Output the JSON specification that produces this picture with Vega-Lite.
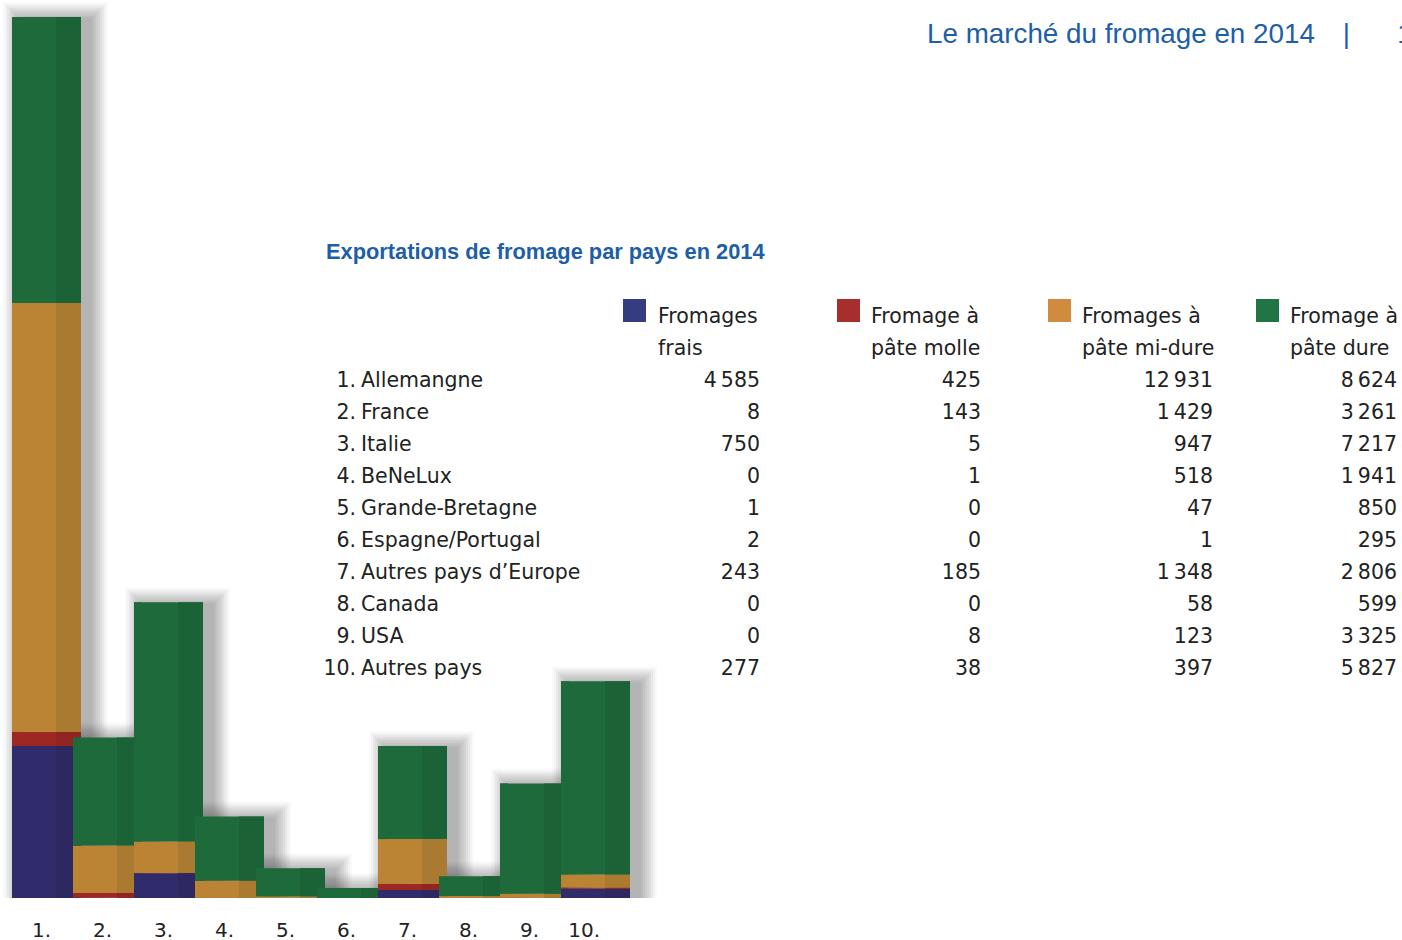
{
  "$schema": "https://vega.github.io/schema/vega-lite/v6.json",
  "width": 1402,
  "height": 898,
  "autosize": {"type": "none"},
  "padding": {"left": 0, "top": 0, "right": 0, "bottom": 42},
  "background": "white",
  "config": {
    "view": {"stroke": null},
    "locale": {"number": {"decimal": ",", "thousands": "\u2009", "grouping": [3], "currency": ["", " €"]}}
  },
  "title": {
    "text": "Le marché du fromage en 2014\u2002\u2002|\u2002\u2002\u2002\u20091",
    "anchor": "start",
    "frame": "group",
    "orient": "top",
    "offset": 0,
    "dx": 927,
    "dy": 70.5,
    "baseline": "alphabetic",
    "font": "Liberation Sans",
    "fontSize": 27.8,
    "fontWeight": "normal",
    "color": "#1d5ea8"
  },
  "datasets": {
    "exports": [
      {"idx": 1, "pays": "Allemangne", "type": "frais", "k": 1, "value": 4585},
      {"idx": 1, "pays": "Allemangne", "type": "molle", "k": 2, "value": 425},
      {"idx": 1, "pays": "Allemangne", "type": "midure", "k": 3, "value": 12931},
      {"idx": 1, "pays": "Allemangne", "type": "dure", "k": 4, "value": 8624},
      {"idx": 2, "pays": "France", "type": "frais", "k": 1, "value": 8},
      {"idx": 2, "pays": "France", "type": "molle", "k": 2, "value": 143},
      {"idx": 2, "pays": "France", "type": "midure", "k": 3, "value": 1429},
      {"idx": 2, "pays": "France", "type": "dure", "k": 4, "value": 3261},
      {"idx": 3, "pays": "Italie", "type": "frais", "k": 1, "value": 750},
      {"idx": 3, "pays": "Italie", "type": "molle", "k": 2, "value": 5},
      {"idx": 3, "pays": "Italie", "type": "midure", "k": 3, "value": 947},
      {"idx": 3, "pays": "Italie", "type": "dure", "k": 4, "value": 7217},
      {"idx": 4, "pays": "BeNeLux", "type": "frais", "k": 1, "value": 0},
      {"idx": 4, "pays": "BeNeLux", "type": "molle", "k": 2, "value": 1},
      {"idx": 4, "pays": "BeNeLux", "type": "midure", "k": 3, "value": 518},
      {"idx": 4, "pays": "BeNeLux", "type": "dure", "k": 4, "value": 1941},
      {"idx": 5, "pays": "Grande-Bretagne", "type": "frais", "k": 1, "value": 1},
      {"idx": 5, "pays": "Grande-Bretagne", "type": "molle", "k": 2, "value": 0},
      {"idx": 5, "pays": "Grande-Bretagne", "type": "midure", "k": 3, "value": 47},
      {"idx": 5, "pays": "Grande-Bretagne", "type": "dure", "k": 4, "value": 850},
      {"idx": 6, "pays": "Espagne/Portugal", "type": "frais", "k": 1, "value": 2},
      {"idx": 6, "pays": "Espagne/Portugal", "type": "molle", "k": 2, "value": 0},
      {"idx": 6, "pays": "Espagne/Portugal", "type": "midure", "k": 3, "value": 1},
      {"idx": 6, "pays": "Espagne/Portugal", "type": "dure", "k": 4, "value": 295},
      {"idx": 7, "pays": "Autres pays d’Europe", "type": "frais", "k": 1, "value": 243},
      {"idx": 7, "pays": "Autres pays d’Europe", "type": "molle", "k": 2, "value": 185},
      {"idx": 7, "pays": "Autres pays d’Europe", "type": "midure", "k": 3, "value": 1348},
      {"idx": 7, "pays": "Autres pays d’Europe", "type": "dure", "k": 4, "value": 2806},
      {"idx": 8, "pays": "Canada", "type": "frais", "k": 1, "value": 0},
      {"idx": 8, "pays": "Canada", "type": "molle", "k": 2, "value": 0},
      {"idx": 8, "pays": "Canada", "type": "midure", "k": 3, "value": 58},
      {"idx": 8, "pays": "Canada", "type": "dure", "k": 4, "value": 599},
      {"idx": 9, "pays": "USA", "type": "frais", "k": 1, "value": 0},
      {"idx": 9, "pays": "USA", "type": "molle", "k": 2, "value": 8},
      {"idx": 9, "pays": "USA", "type": "midure", "k": 3, "value": 123},
      {"idx": 9, "pays": "USA", "type": "dure", "k": 4, "value": 3325},
      {"idx": 10, "pays": "Autres pays", "type": "frais", "k": 1, "value": 277},
      {"idx": 10, "pays": "Autres pays", "type": "molle", "k": 2, "value": 38},
      {"idx": 10, "pays": "Autres pays", "type": "midure", "k": 3, "value": 397},
      {"idx": 10, "pays": "Autres pays", "type": "dure", "k": 4, "value": 5827}
    ],
    "types": [
      {"k": 1, "type": "frais", "label": ["Fromages", "frais"]},
      {"k": 2, "type": "molle", "label": ["Fromage à", "pâte molle"]},
      {"k": 3, "type": "midure", "label": ["Fromages à", "pâte mi-dure"]},
      {"k": 4, "type": "dure", "label": ["Fromage à", "pâte dure"]}
    ],
    "titres": [
      {"titre": "Exportations de fromage par pays en 2014"}
    ]
  },
  "data": {"name": "exports"},
  "layer": [
    {
      "mark": {"type": "bar", "width": 73, "xOffset": 9, "yOffset": 1, "y2Offset": 2, "color": "#000000", "opacity": 0.04},
      "encoding": {
        "x": {"field": "idx", "type": "quantitative", "scale": {"domain": [1, 10], "range": [46.5, 595.5], "padding": 0}, "axis": null},
        "y": {"aggregate": "sum", "field": "value", "type": "quantitative", "scale": {"domain": [0, 27078], "nice": false}, "axis": null}
      }
    },
    {
      "mark": {"type": "bar", "width": 77, "xOffset": 9, "yOffset": -1, "y2Offset": 4, "color": "#000000", "opacity": 0.04},
      "encoding": {
        "x": {"field": "idx", "type": "quantitative", "scale": {"domain": [1, 10], "range": [46.5, 595.5], "padding": 0}, "axis": null},
        "y": {"aggregate": "sum", "field": "value", "type": "quantitative", "scale": {"domain": [0, 27078], "nice": false}, "axis": null}
      }
    },
    {
      "mark": {"type": "bar", "width": 81, "xOffset": 9, "yOffset": -3, "y2Offset": 6, "color": "#000000", "opacity": 0.04},
      "encoding": {
        "x": {"field": "idx", "type": "quantitative", "scale": {"domain": [1, 10], "range": [46.5, 595.5], "padding": 0}, "axis": null},
        "y": {"aggregate": "sum", "field": "value", "type": "quantitative", "scale": {"domain": [0, 27078], "nice": false}, "axis": null}
      }
    },
    {
      "mark": {"type": "bar", "width": 85, "xOffset": 9, "yOffset": -5, "y2Offset": 8, "color": "#000000", "opacity": 0.04},
      "encoding": {
        "x": {"field": "idx", "type": "quantitative", "scale": {"domain": [1, 10], "range": [46.5, 595.5], "padding": 0}, "axis": null},
        "y": {"aggregate": "sum", "field": "value", "type": "quantitative", "scale": {"domain": [0, 27078], "nice": false}, "axis": null}
      }
    },
    {
      "mark": {"type": "bar", "width": 89, "xOffset": 9, "yOffset": -7, "y2Offset": 10, "color": "#000000", "opacity": 0.04},
      "encoding": {
        "x": {"field": "idx", "type": "quantitative", "scale": {"domain": [1, 10], "range": [46.5, 595.5], "padding": 0}, "axis": null},
        "y": {"aggregate": "sum", "field": "value", "type": "quantitative", "scale": {"domain": [0, 27078], "nice": false}, "axis": null}
      }
    },
    {
      "mark": {"type": "bar", "width": 93, "xOffset": 9, "yOffset": -9, "y2Offset": 12, "color": "#000000", "opacity": 0.04},
      "encoding": {
        "x": {"field": "idx", "type": "quantitative", "scale": {"domain": [1, 10], "range": [46.5, 595.5], "padding": 0}, "axis": null},
        "y": {"aggregate": "sum", "field": "value", "type": "quantitative", "scale": {"domain": [0, 27078], "nice": false}, "axis": null}
      }
    },
    {
      "mark": {"type": "bar", "width": 97, "xOffset": 9, "yOffset": -11, "y2Offset": 14, "color": "#000000", "opacity": 0.04},
      "encoding": {
        "x": {"field": "idx", "type": "quantitative", "scale": {"domain": [1, 10], "range": [46.5, 595.5], "padding": 0}, "axis": null},
        "y": {"aggregate": "sum", "field": "value", "type": "quantitative", "scale": {"domain": [0, 27078], "nice": false}, "axis": null}
      }
    },
    {
      "mark": {"type": "bar", "width": 101, "xOffset": 9, "yOffset": -13, "y2Offset": 16, "color": "#000000", "opacity": 0.03},
      "encoding": {
        "x": {"field": "idx", "type": "quantitative", "scale": {"domain": [1, 10], "range": [46.5, 595.5], "padding": 0}, "axis": null},
        "y": {"aggregate": "sum", "field": "value", "type": "quantitative", "scale": {"domain": [0, 27078], "nice": false}, "axis": null}
      }
    },
    {
      "mark": {"type": "bar", "width": 105, "xOffset": 9, "yOffset": -15, "y2Offset": 18, "color": "#000000", "opacity": 0.02},
      "encoding": {
        "x": {"field": "idx", "type": "quantitative", "scale": {"domain": [1, 10], "range": [46.5, 595.5], "padding": 0}, "axis": null},
        "y": {"aggregate": "sum", "field": "value", "type": "quantitative", "scale": {"domain": [0, 27078], "nice": false}, "axis": null}
      }
    },
    {
      "mark": {"type": "bar", "width": 69},
      "encoding": {
        "x": {"field": "idx", "type": "quantitative", "scale": {"domain": [1, 10], "range": [46.5, 595.5], "padding": 0},
          "axis": {"values": [1, 2, 3, 4, 5, 6, 7, 8, 9, 10], "labelExpr": "datum.value + '.'", "title": null, "domain": false, "ticks": false, "tickSize": 0, "grid": false,
            "labelFont": "DejaVu Sans", "labelFontSize": 20, "labelColor": "#222222", "labelPadding": 38, "labelBaseline": "alphabetic", "labelAlign": "right", "labelOffset": 4}},
        "y": {"field": "value", "type": "quantitative", "scale": {"domain": [0, 27078], "nice": false}, "axis": null},
        "color": {"field": "type", "type": "nominal", "scale": {"domain": ["frais", "molle", "midure", "dure"], "range": ["#302b6b", "#9e2723", "#bb8434", "#1e6a3a"]}, "legend": null},
        "order": {"field": "k", "type": "quantitative"}
      }
    },
    {
      "mark": {"type": "bar", "width": 25, "xOffset": 22},
      "encoding": {
        "x": {"field": "idx", "type": "quantitative", "scale": {"domain": [1, 10], "range": [46.5, 595.5], "padding": 0}, "axis": null},
        "y": {"field": "value", "type": "quantitative", "scale": {"domain": [0, 27078], "nice": false}, "axis": null},
        "color": {"field": "type", "type": "nominal", "scale": {"domain": ["frais", "molle", "midure", "dure"], "range": ["#2d2861", "#912522", "#a97a30", "#1c6237"]}, "legend": null},
        "order": {"field": "k", "type": "quantitative"}
      }
    },
    {
      "mark": {"type": "bar", "width": 8, "xOffset": -30.5},
      "encoding": {
        "x": {"field": "idx", "type": "quantitative", "scale": {"domain": [1, 10], "range": [46.5, 595.5], "padding": 0}, "axis": null},
        "y": {"field": "value", "type": "quantitative", "scale": {"domain": [0, 27078], "nice": false}, "axis": null},
        "color": {"field": "type", "type": "nominal", "scale": {"domain": ["frais", "molle", "midure", "dure"], "range": ["#302b6b", "#9e2723", "#bb8434", "#1e6a3a"]}, "legend": null},
        "order": {"field": "k", "type": "quantitative"}
      }
    },
    {
      "transform": [{"filter": "datum.k == 1"}],
      "mark": {"type": "text", "align": "right", "baseline": "alphabetic", "font": "DejaVu Sans", "fontSize": 20.5, "color": "#222222"},
      "encoding": {
        "x": {"datum": 1, "type": "quantitative", "scale": {"domain": [0, 1, 2], "range": [326, 349.5, 361]}, "axis": null},
        "y": {"field": "idx", "type": "quantitative", "scale": {"domain": [-1, 10], "range": [322.5, 674.5]}, "axis": null},
        "text": {"field": "idx", "type": "quantitative", "format": "d"}
      }
    },
    {
      "transform": [{"filter": "datum.k == 1"}],
      "mark": {"type": "text", "align": "left", "baseline": "alphabetic", "font": "DejaVu Sans", "fontSize": 20.5, "color": "#222222", "text": "."},
      "encoding": {
        "x": {"datum": 1, "type": "quantitative", "scale": {"domain": [0, 1, 2], "range": [326, 349.5, 361]}, "axis": null},
        "y": {"field": "idx", "type": "quantitative", "scale": {"domain": [-1, 10], "range": [322.5, 674.5]}, "axis": null}
      }
    },
    {
      "transform": [{"filter": "datum.k == 1"}],
      "mark": {"type": "text", "align": "left", "baseline": "alphabetic", "font": "DejaVu Sans", "fontSize": 20.5, "color": "#222222"},
      "encoding": {
        "x": {"datum": 2, "type": "quantitative", "scale": {"domain": [0, 1, 2], "range": [326, 349.5, 361]}, "axis": null},
        "y": {"field": "idx", "type": "quantitative", "scale": {"domain": [-1, 10], "range": [322.5, 674.5]}, "axis": null},
        "text": {"field": "pays", "type": "nominal"}
      }
    },
    {
      "mark": {"type": "text", "align": "right", "baseline": "alphabetic", "font": "DejaVu Sans", "fontSize": 20.5, "color": "#222222"},
      "encoding": {
        "x": {"field": "k", "type": "quantitative", "scale": {"domain": [1, 2, 3, 4], "range": [760, 981, 1213, 1397]}, "axis": null},
        "y": {"field": "idx", "type": "quantitative", "scale": {"domain": [-1, 10], "range": [322.5, 674.5]}, "axis": null},
        "text": {"field": "value", "type": "quantitative", "format": ",d"}
      }
    },
    {
      "data": {"name": "types"},
      "mark": {"type": "text", "align": "left", "baseline": "alphabetic", "font": "DejaVu Sans", "fontSize": 20.5, "color": "#222222", "lineHeight": 32},
      "encoding": {
        "x": {"field": "k", "type": "quantitative", "scale": {"domain": [1, 2, 3, 4], "range": [658, 871, 1082, 1290]}, "axis": null},
        "y": {"datum": -1, "type": "quantitative", "scale": {"domain": [-1, 10], "range": [322.5, 674.5]}, "axis": null},
        "text": {"field": "label"}
      }
    },
    {
      "data": {"name": "types"},
      "mark": {"type": "square", "size": 529, "filled": true, "opacity": 1, "yOffset": -12},
      "encoding": {
        "x": {"field": "k", "type": "quantitative", "scale": {"domain": [1, 2, 3, 4], "range": [634.5, 848.5, 1059.5, 1267.5]}, "axis": null},
        "y": {"datum": -1, "type": "quantitative", "scale": {"domain": [-1, 10], "range": [322.5, 674.5]}, "axis": null},
        "color": {"field": "type", "type": "nominal", "scale": {"domain": ["frais", "molle", "midure", "dure"], "range": ["#353c80", "#a62f2d", "#d08b3e", "#217444"]}, "legend": null}
      }
    },
    {
      "data": {"name": "titres"},
      "mark": {"type": "text", "align": "left", "baseline": "alphabetic", "font": "Liberation Sans", "fontSize": 21.8, "fontWeight": "bold", "color": "#1d5ea8"},
      "encoding": {
        "x": {"datum": 0, "type": "quantitative", "scale": {"domain": [0, 1, 2], "range": [326, 349.5, 361]}, "axis": null},
        "y": {"datum": -3, "type": "quantitative", "scale": {"domain": [-1, 10], "range": [322.5, 674.5]}, "axis": null},
        "text": {"field": "titre", "type": "nominal"}
      }
    }
  ],
  "resolve": {"scale": {"x": "independent", "y": "independent", "color": "independent"}}
}
